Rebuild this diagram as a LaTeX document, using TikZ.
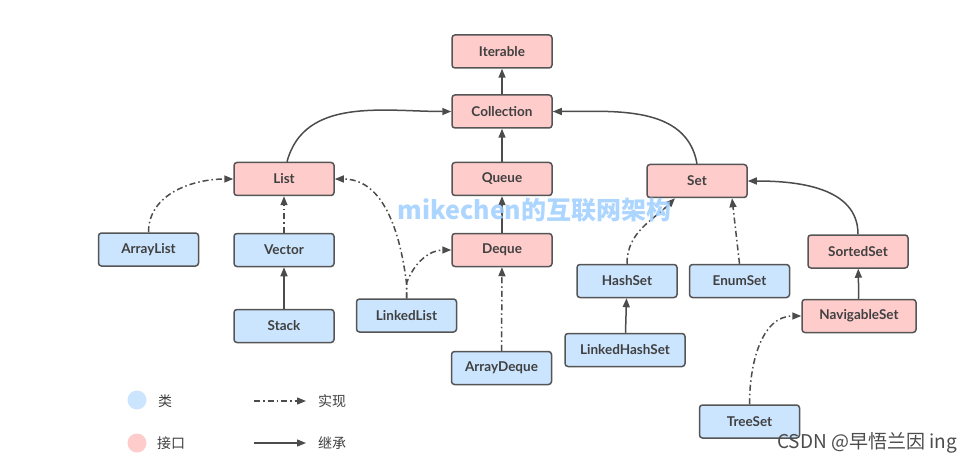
\documentclass[tikz,border=0pt]{standalone}
\usepackage{fontspec}
\setmainfont{Lato}
\newfontfamily\cjk{Noto Sans CJK SC}
\usetikzlibrary{arrows.meta,calc}
\definecolor{pinkfill}{HTML}{FFCCCC}
\definecolor{bluefill}{HTML}{CCE5FF}
\definecolor{edge}{HTML}{555555}
\definecolor{txt}{HTML}{404040}
\definecolor{wm}{HTML}{9ECFFF}
\tikzset{
  box/.style={draw=edge, line width=1.5pt, rounded corners=3pt, minimum width=100pt,
    minimum height=33pt, inner sep=0pt, text=txt, font=\fontsize{13.5}{15}\selectfont\bfseries},
  iface/.style={box, fill=pinkfill},
  cls/.style={box, fill=bluefill},
  inh/.style={draw=edge!90!black, line width=1.5pt, -{Triangle[length=9pt,width=7pt]}},
  impl/.style={inh, dash pattern=on 6pt off 3pt on 1.5pt off 3pt},
  legtxt/.style={text=txt, font=\cjk\fontsize{14}{16}\selectfont}
}
\begin{document}
\begin{tikzpicture}[x=1pt,y=-1pt]
\useasboundingbox[fill=white] (0,0) rectangle (974,465);
% nodes
\node[iface] (Iterable) at (502,51.5) {Iterable};
\node[iface] (Collection) at (502,111.5) {Collection};
\node[iface] (Queue) at (502,179) {Queue};
\node[iface] (Deque) at (502,250) {Deque};
\node[cls] (ArrayDeque) at (501.5,368) {ArrayDeque};
\node[iface] (List) at (284,179) {List};
\node[cls] (ArrayList) at (148.5,249.5) {ArrayList};
\node[cls] (Vector) at (284,250) {Vector};
\node[cls] (Stack) at (284,326) {Stack};
\node[cls] (LinkedList) at (406.5,315.5) {LinkedList};
\node[iface] (Set) at (697,181) {Set};
\node[cls] (HashSet) at (627,281) {HashSet};
\node[cls] (EnumSet) at (739.5,281) {EnumSet};
\node[cls, minimum width=120pt] (LinkedHashSet) at (625,350) {LinkedHashSet};
\node[iface] (SortedSet) at (858,251.5) {SortedSet};
\node[iface, minimum width=114pt] (NavigableSet) at (859,316) {NavigableSet};
\node[cls] (TreeSet) at (749.5,421.5) {TreeSet};
% connectors
\draw[inh] (Collection) -- (Iterable);
\draw[inh] (Queue) -- (Collection);
\draw[inh] (Deque) -- (Queue);
\draw[impl] (ArrayDeque) -- (Deque);
\draw[inh] ($(List.north)+(3,0)$) to[out=75,in=180] (Collection.west);
\draw[inh] (Set.north) to[out=100,in=0] (Collection.east);
\draw[impl] (ArrayList.north) to[out=90,in=180] (List.west);
\draw[impl] (Vector) -- (List);
\draw[inh] (Stack) -- (Vector);
\coordinate (LLsplit) at ($(LinkedList.north)+(0,-15)$);
\draw[impl] (LinkedList.north) -- (LLsplit) to[out=97,in=0] (List.east);
\draw[impl] (LinkedList.north) -- (LLsplit) to[out=70,in=180] (Deque.west);
\draw[impl] (HashSet.north) to[out=90,in=225] ($(Set.south)+(-22,0)$);
\draw[impl] (EnumSet.north) -- ($(Set.south)+(35,0)$);
\draw[inh] (LinkedHashSet) -- (HashSet);
\draw[inh] (SortedSet.north) to[out=90,in=0] (Set.east);
\draw[inh] (NavigableSet) -- (SortedSet);
\draw[impl] (TreeSet.north) to[out=90,in=180] (NavigableSet.west);
% watermark
\node[text=wm, opacity=0.85, font=\cjk\fontsize{25}{28}\selectfont\bfseries] (mark) at (534.5,210) {mikechen的互联网架构};
% legend
\fill[bluefill] (137,400) circle (9.5pt);
\node[legtxt] (lclass) at (165,401) {类};
\fill[pinkfill] (137,443) circle (9.5pt);
\node[legtxt] (liface) at (171,443) {接口};
\coordinate (la1) at (254,401);
\coordinate (la2) at (306,401);
\draw[impl, line width=1.3pt] (la1) -- (la2);
\node[legtxt] (limpl) at (332,401) {实现};
\coordinate (lb1) at (254,443);
\coordinate (lb2) at (306,443);
\draw[inh, line width=1.3pt] (lb1) -- (lb2);
\node[legtxt] (linh) at (332,443) {继承};
% CSDN
\node[text=black!70, font=\cjk\fontsize{19}{22}\selectfont] (csdn) at (867,443) {CSDN @早悟兰因 ing};
\end{tikzpicture}
\end{document}
